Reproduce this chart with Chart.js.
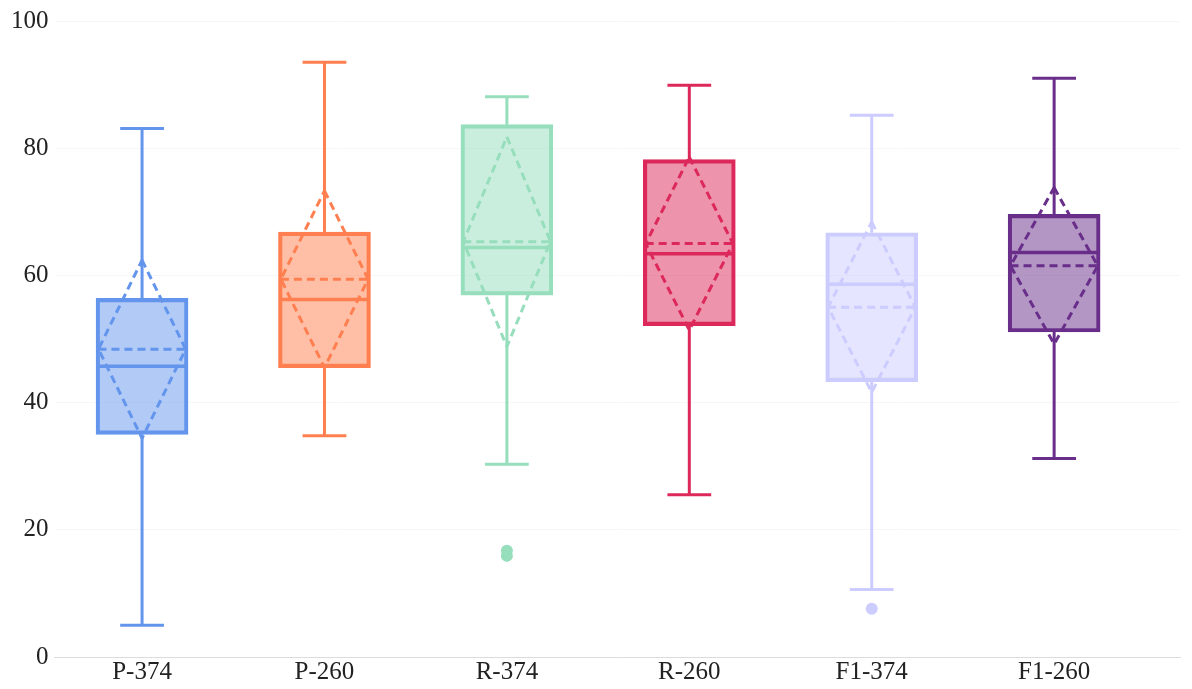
<!DOCTYPE html>
<html>
<head>
<meta charset="utf-8">
<script src="https://cdn.jsdelivr.net/npm/chart.js@4.4.1/dist/chart.umd.min.js"></script>
<style>
  body { margin: 0; background: #fff; }
  #wrap { width: 1192px; height: 689px; }
</style>
</head>
<body>
<div id="wrap"><canvas id="chartBox"></canvas></div>
<script>
const categories = ['P-374', 'P-260', 'R-374', 'R-260', 'F1-374', 'F1-260']
const mins = [5.0, 34.8, 30.3, 25.5, 10.6, 31.2]
const q1s = [35.0, 45.5, 56.9, 52.1, 43.3, 51.1]
const medians = [45.7, 56.2, 64.4, 63.4, 58.6, 63.6]
const q3s = [56.4, 66.8, 83.7, 78.2, 66.7, 69.6]
const maxs = [83.1, 93.5, 88.1, 89.9, 85.2, 91.0]
const means = [48.4, 59.4, 65.3, 65.0, 55.0, 61.5]
const sds = [14.0, 13.9, 16.5, 13.6, 13.4, 12.3]
const outliers = [[], [], [15.9, 16.7], [], [7.6], []]
const yTicks = [0, 20, 40, 60, 80, 100]

const lineColors = [
  'rgb(100, 149, 237)',
  'rgb(255, 127, 80)',
  'rgb(150, 222, 188)',
  'rgb(220, 40, 90)',
  'rgb(204, 204, 255)',
  'rgb(104, 46, 138)',
]
const fillColors = [
  'rgba(100, 149, 237, 0.5)',
  'rgba(255, 127, 80, 0.5)',
  'rgba(150, 222, 188, 0.5)',
  'rgba(220, 40, 90, 0.5)',
  'rgba(204, 204, 255, 0.5)',
  'rgba(104, 46, 138, 0.5)',
]

const BOX_HALF = 0.25 // box half width in x units
const CAP_HALF = 0.12

// whiskers, median, mean and the mean +/- sd diamond
const boxExtras = {
  id: 'boxExtras',
  afterDatasetsDraw(chart) {
    const ctx = chart.ctx
    const x = chart.scales.x
    const y = chart.scales.y
    ctx.save()
    categories.forEach((c, i) => {
      const cx = x.getPixelForValue(i)
      const xl = x.getPixelForValue(i - BOX_HALF) + 2
      const xr = x.getPixelForValue(i + BOX_HALF) - 2
      const capL = x.getPixelForValue(i - CAP_HALF)
      const capR = x.getPixelForValue(i + CAP_HALF)
      ctx.strokeStyle = lineColors[i]
      ctx.lineCap = 'butt'

      // whiskers
      ctx.setLineDash([])
      ctx.lineWidth = 3
      ctx.beginPath()
      ctx.moveTo(cx, y.getPixelForValue(q3s[i]))
      ctx.lineTo(cx, y.getPixelForValue(maxs[i]))
      ctx.moveTo(cx, y.getPixelForValue(q1s[i]))
      ctx.lineTo(cx, y.getPixelForValue(mins[i]))
      ctx.moveTo(capL, y.getPixelForValue(maxs[i]))
      ctx.lineTo(capR, y.getPixelForValue(maxs[i]))
      ctx.moveTo(capL, y.getPixelForValue(mins[i]))
      ctx.lineTo(capR, y.getPixelForValue(mins[i]))
      ctx.stroke()

      // median
      ctx.lineWidth = 3.5
      ctx.beginPath()
      ctx.moveTo(xl, y.getPixelForValue(medians[i]))
      ctx.lineTo(xr, y.getPixelForValue(medians[i]))
      ctx.stroke()

      // mean and sd diamond, dashed
      ctx.lineWidth = 3
      ctx.setLineDash([8, 5])
      const ym = y.getPixelForValue(means[i])
      ctx.beginPath()
      ctx.moveTo(xl, ym)
      ctx.lineTo(xr, ym)
      ctx.stroke()
      ctx.beginPath()
      ctx.moveTo(cx, y.getPixelForValue(means[i] + sds[i]))
      ctx.lineTo(xr, ym)
      ctx.lineTo(cx, y.getPixelForValue(means[i] - sds[i]))
      ctx.lineTo(xl, ym)
      ctx.closePath()
      ctx.stroke()
    })
    ctx.restore()
  },
}

const boxData = categories.map((c, i) => ({ x: i, y: [q1s[i], q3s[i]] }))
const outlierData = []
const outlierColors = []
outliers.forEach((list, i) => {
  list.forEach((v) => {
    outlierData.push({ x: i, y: v })
    outlierColors.push(lineColors[i])
  })
})

const myChart = new Chart(document.getElementById('chartBox'), {
  type: 'bar',
  data: {
    datasets: [
      {
        label: 'box',
        data: boxData,
        backgroundColor: fillColors,
        borderColor: lineColors,
        borderWidth: 3.5,
        borderSkipped: false,
        barThickness: 92,
      },
      {
        type: 'scatter',
        label: 'outliers',
        data: outlierData,
        backgroundColor: outlierColors,
        borderWidth: 0,
        pointRadius: 6,
      },
    ],
  },
  options: {
    responsive: true,
    maintainAspectRatio: false,
    animation: false,
    layout: { padding: { left: 5, right: 12, top: 0, bottom: 2 } },
    plugins: {
      legend: { display: false },
      tooltip: { enabled: false },
    },
    scales: {
      x: {
        type: 'linear',
        offset: false,
        min: -0.48,
        max: 5.69,
        afterBuildTicks: (axis) => {
          axis.ticks = categories.map((c, i) => ({ value: i }))
        },
        ticks: {
          callback: (v) => categories[v],
          color: '#222',
          font: { family: 'Liberation Serif', size: 25 },
          padding: 0,
          maxRotation: 0,
        },
        grid: { display: false, drawTicks: false },
        border: { display: true, color: '#dcdcdc', width: 1 },
      },
      y: {
        min: 0,
        max: 100,
        afterBuildTicks: (axis) => {
          axis.ticks = yTicks.map((v) => ({ value: v }))
        },
        ticks: {
          color: '#222',
          font: { family: 'Liberation Serif', size: 25 },
          padding: 6,
        },
        grid: { color: 'rgba(0, 0, 0, 0.035)', drawTicks: false },
        border: { display: false },
      },
    },
  },
  plugins: [boxExtras],
})
</script>
</body>
</html>
